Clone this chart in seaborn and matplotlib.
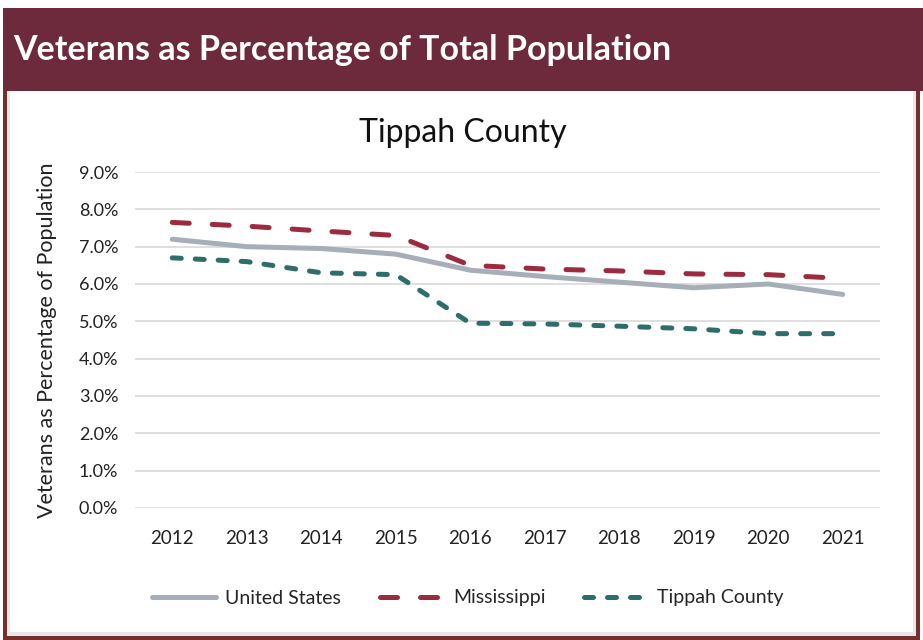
import matplotlib
matplotlib.use("Agg")
import matplotlib.pyplot as plt
import seaborn as sns
import pandas as pd
from matplotlib.patches import Rectangle
from matplotlib.lines import Line2D

years = ["2012", "2013", "2014", "2015", "2016", "2017", "2018", "2019", "2020", "2021"]
united_states = [7.2, 7.0, 6.95, 6.8, 6.37, 6.2, 6.05, 5.9, 6.0, 5.72]
mississippi = [7.65, 7.55, 7.42, 7.3, 6.5, 6.4, 6.35, 6.27, 6.25, 6.15]
tippah_county = [6.7, 6.6, 6.3, 6.25, 4.95, 4.93, 4.87, 4.8, 4.67, 4.67]
series_names = ["United States", "Mississippi", "Tippah County"]
y_ticks = [0, 1, 2, 3, 4, 5, 6, 7, 8, 9]

df = pd.DataFrame({"Year": years * 3,
                   "Value": united_states + mississippi + tippah_county,
                   "Series": [series_names[0]] * 10 + [series_names[1]] * 10 + [series_names[2]] * 10})

sns.set_theme(style="white")
plt.rcParams['font.family'] = ['Lato', 'DejaVu Sans']

W, H = 923, 640
fig = plt.figure(figsize=(W / 100, H / 100), dpi=100)
fig.patch.set_facecolor("white")

maroon = "#6D2A3D"
frame = "#74302C"
# outer frame
fig.patches.append(Rectangle((3 / W, 0), (W - 6) / W, (H - 8) / H, transform=fig.transFigure,
                             facecolor=frame, edgecolor="none", zorder=-5))
fig.patches.append(Rectangle((7 / W, 4 / H), (W - 14) / W, (H - 12) / H, transform=fig.transFigure,
                             facecolor="#E8E8E8", edgecolor="none", zorder=-4))
fig.patches.append(Rectangle((10 / W, 8 / H), (W - 20) / W, (H - 16) / H, transform=fig.transFigure,
                             facecolor="white", edgecolor="none", zorder=-3))
# header band
fig.patches.append(Rectangle((3 / W, (H - 91) / H), (W - 3) / W, 83 / H, transform=fig.transFigure,
                             facecolor=maroon, edgecolor="none", zorder=-2))
fig.text(13 / W, (H - 50) / H, "Veterans as Percentage of Total Population", color="white",
         fontsize=24.5, fontweight="bold", va="center", ha="left")

ax = fig.add_axes([135 / W, (H - 508) / H, (880 - 135) / W, (508 - 172) / H])
ax.set_zorder(2)
palette = {"United States": "#A6AEB7", "Mississippi": "#9B2B3F", "Tippah County": "#2D6E6B"}
dashes = {"United States": "", "Mississippi": (3.4, 4.6), "Tippah County": (1.8, 2.8)}
sns.lineplot(data=df, x="Year", y="Value", hue="Series", style="Series", palette=palette,
             dashes=dashes, linewidth=3.6, ax=ax, legend=False, sort=False)
for ln in ax.lines:
    ln.set_dash_capstyle("round")
    ln.set_solid_capstyle("round")

ax.set_ylim(0, 9)
ax.set_xlim(-0.5, 9.5)
ax.set_yticks(y_ticks)
ax.set_yticklabels([f"{v:.1f}%" for v in y_ticks], fontsize=13, color="#222222")
ax.tick_params(axis="x", labelsize=13.5, colors="#222222", pad=16, length=0)
ax.tick_params(axis="y", pad=12, length=0)
ax.grid(axis="y", color="#D9D9D9", linewidth=1.2)
ax.set_axisbelow(True)
for s in ax.spines.values():
    s.set_visible(False)
ax.set_xlabel("")
ax.set_ylabel("Veterans as Percentage of Population", fontsize=15.5, color="#222222")
ax.yaxis.set_label_coords(-0.105, 0.5)
ax.set_facecolor("white")

fig.text(463 / W, (H - 133) / H, "Tippah County", fontsize=23, ha="center", va="center", color="#111111")

handles = [
    Line2D([0], [0], color=palette["United States"], linewidth=3.6, linestyle="-", solid_capstyle="round"),
    Line2D([0], [0], color=palette["Mississippi"], linewidth=3.6, dashes=(3.4, 4.6), dash_capstyle="round"),
    Line2D([0], [0], color=palette["Tippah County"], linewidth=3.6, dashes=(1.8, 2.8), dash_capstyle="round"),
]
fig.legend(handles, series_names, loc="center", bbox_to_anchor=(468 / W, (H - 598) / H), ncol=3,
           frameon=False, fontsize=14, handlelength=3.3, columnspacing=2.0, handletextpad=0.45)

fig.savefig("out.png", dpi=100)
